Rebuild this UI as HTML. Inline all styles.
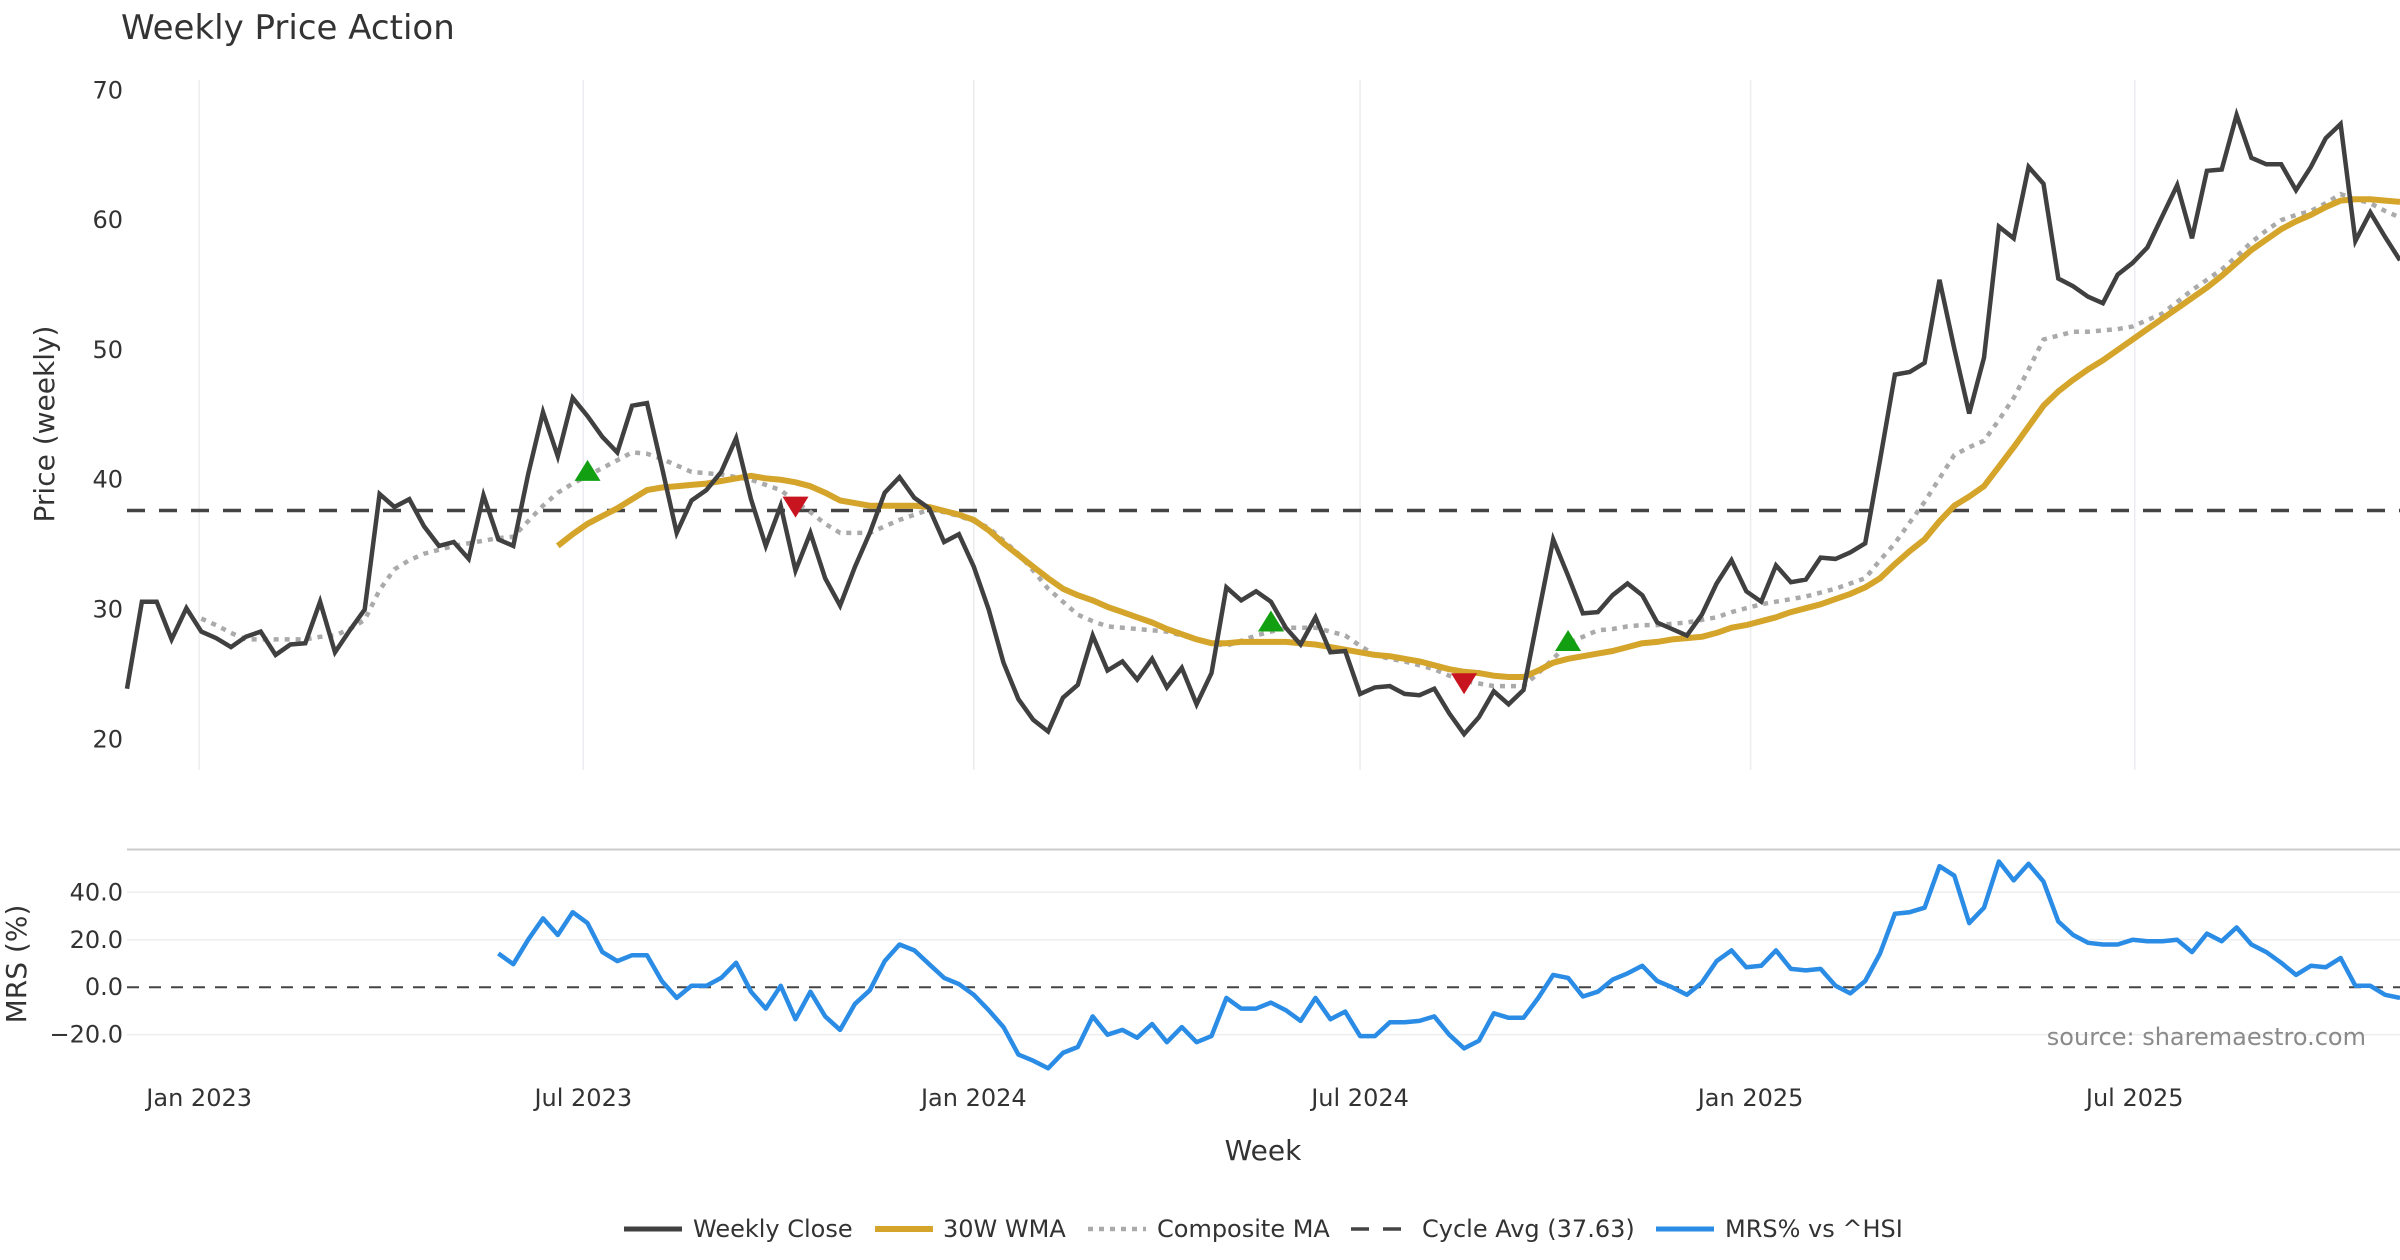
<!DOCTYPE html>
<html><head><meta charset="utf-8"><title>Weekly Price Action</title>
<style>
html,body{margin:0;padding:0;background:#fff;}
svg{display:block;font-family:"DejaVu Sans","Liberation Sans",sans-serif;}
</style></head>
<body>
<svg id="chart" width="2400" height="1260" viewBox="0 0 2400 1260" xmlns="http://www.w3.org/2000/svg">
<rect width="2400" height="1260" fill="#fff"/>
<text x="121" y="39" font-size="34" fill="#333">Weekly Price Action</text>
<g id="grid"></g>
<g id="price"></g>
<g id="mrs"></g>
<text x="54" y="424" font-size="28" fill="#333" text-anchor="middle" transform="rotate(-90 54 424)">Price (weekly)</text>
<text x="26" y="964" font-size="28" fill="#333" text-anchor="middle" transform="rotate(-90 26 964)">MRS (%)</text>
<text x="1263" y="1160" font-size="28" fill="#333" text-anchor="middle">Week</text>
<text x="2366" y="1045" font-size="24" fill="#8a8a8a" text-anchor="end">source: sharemaestro.com</text>
<g id="legend">
  <line x1="624" y1="1229" x2="682" y2="1229" stroke="#404040" stroke-width="5"/>
  <text x="693" y="1237" font-size="24" fill="#333">Weekly Close</text>
  <line x1="875" y1="1229" x2="933" y2="1229" stroke="#D4A52A" stroke-width="6"/>
  <text x="943" y="1237" font-size="24" fill="#333">30W WMA</text>
  <line x1="1088" y1="1229" x2="1146" y2="1229" stroke="#aaa" stroke-width="4.5" stroke-dasharray="5,6"/>
  <text x="1157" y="1237" font-size="24" fill="#333">Composite MA</text>
  <line x1="1351" y1="1229" x2="1409" y2="1229" stroke="#444" stroke-width="3.5" stroke-dasharray="18,14"/>
  <text x="1422" y="1237" font-size="24" fill="#333">Cycle Avg (37.63)</text>
  <line x1="1656" y1="1229" x2="1714" y2="1229" stroke="#2B8CE6" stroke-width="5"/>
  <text x="1725" y="1237" font-size="24" fill="#333">MRS% vs ^HSI</text>
</g>
</svg>
<script>
const closeValues=[23.9,30.6,30.6,27.7,30.1,28.3,27.8,27.1,27.9,28.3,26.5,27.3,27.4,30.6,26.7,28.4,30.0,38.9,37.9,38.5,36.4,34.9,35.2,33.9,38.8,35.4,34.9,40.4,45.2,41.8,46.3,44.9,43.3,42.1,45.7,45.9,41.0,35.9,38.4,39.2,40.6,43.2,38.5,34.9,38.0,33.0,35.9,32.4,30.3,33.3,35.9,39.0,40.2,38.6,37.8,35.2,35.8,33.3,30.0,25.9,23.1,21.5,20.6,23.2,24.2,28.0,25.3,26.0,24.6,26.2,24.0,25.5,22.7,25.1,31.7,30.7,31.4,30.6,28.6,27.3,29.4,26.7,26.8,23.5,24.0,24.1,23.5,23.4,23.9,22.0,20.4,21.7,23.7,22.7,23.8,29.6,35.4,32.6,29.7,29.8,31.1,32.0,31.1,29.0,28.5,28.0,29.6,32.0,33.8,31.4,30.6,33.4,32.1,32.3,34.0,33.9,34.4,35.1,41.5,48.1,48.3,49.0,55.4,50.1,45.1,49.4,59.5,58.6,64.1,62.8,55.5,54.9,54.1,53.6,55.8,56.7,57.9,60.3,62.7,58.6,63.8,63.9,68.1,64.8,64.3,64.3,62.3,64.1,66.3,67.4,58.4,60.6,58.7,56.9];
const wmaStart=29;
const wmaValues=[34.9,35.8,36.6,37.2,37.8,38.5,39.2,39.4,39.5,39.6,39.7,39.9,40.1,40.3,40.1,40.0,39.8,39.5,39.0,38.4,38.2,38.0,38.0,38.0,38.0,37.9,37.6,37.3,36.9,36.1,35.1,34.2,33.3,32.4,31.6,31.1,30.7,30.2,29.8,29.4,29.0,28.5,28.1,27.7,27.4,27.4,27.5,27.5,27.5,27.5,27.4,27.3,27.1,26.9,26.7,26.5,26.4,26.2,26.0,25.7,25.4,25.2,25.1,24.9,24.8,24.8,25.3,25.9,26.2,26.4,26.6,26.8,27.1,27.4,27.5,27.7,27.8,27.9,28.2,28.6,28.8,29.1,29.4,29.8,30.1,30.4,30.8,31.2,31.7,32.4,33.5,34.5,35.4,36.8,38.0,38.7,39.5,41.0,42.5,44.1,45.7,46.8,47.7,48.5,49.2,50.0,50.8,51.6,52.4,53.2,54.0,54.8,55.7,56.7,57.7,58.5,59.3,59.9,60.4,61.0,61.5,61.6,61.6,61.5,61.4];
const compStart=5;
const compValues=[29.3,28.8,28.2,27.7,27.7,27.7,27.7,27.7,27.9,28.0,28.5,29.2,31.5,33.1,33.8,34.3,34.6,34.9,35.1,35.3,35.5,35.6,36.8,38.0,39.0,39.7,40.3,40.9,41.5,42.1,42.0,41.6,41.1,40.6,40.5,40.4,40.2,40.0,39.6,39.2,38.3,37.5,36.6,35.9,35.9,35.9,36.4,36.9,37.3,37.7,37.5,37.2,36.8,36.3,35.3,34.3,33.0,31.6,30.6,29.6,29.1,28.7,28.6,28.5,28.4,28.3,28.0,27.7,27.4,27.2,27.6,28.0,28.3,28.6,28.6,28.6,28.3,28.0,27.2,26.5,26.2,26.0,25.7,25.4,24.9,24.5,24.3,24.1,24.1,24.1,25.1,26.2,27.4,27.9,28.4,28.5,28.7,28.8,28.8,28.9,29.0,29.2,29.4,29.8,30.1,30.4,30.6,30.8,31.0,31.3,31.6,32.0,32.4,33.8,35.1,36.7,38.3,40.1,41.9,42.5,43.0,44.6,46.3,48.5,50.8,51.1,51.4,51.4,51.5,51.6,51.8,52.3,52.8,53.7,54.6,55.4,56.2,57.2,58.3,59.2,60.0,60.4,60.7,61.3,62.0,61.6,61.3,60.7,60.2];
const mrsStart=25;
const mrsValues=[14.2,9.7,20,29,22,31.6,27,14.8,11,13.5,13.5,2.6,-4.5,0.6,0.6,3.9,10.3,-1.9,-9,0.6,-13.5,-1.9,-12.3,-18,-7,-1.3,11,18,15.5,9.7,3.9,1.3,-3.2,-9.7,-16.8,-28.4,-31,-34.2,-27.7,-25.2,-12.3,-20,-18,-21.3,-15.5,-23.2,-16.8,-23.2,-20.6,-4.5,-9,-9,-6.5,-9.7,-14.2,-4.5,-13.5,-10.3,-20.6,-20.6,-14.8,-14.8,-14.2,-12.3,-20,-25.8,-22.6,-11,-12.9,-12.9,-4.5,5.2,3.9,-3.9,-1.9,3.2,5.8,9,2.6,0,-3.2,1.9,11,15.5,8.4,9,15.5,7.7,7.1,7.7,0.6,-2.6,2.6,14.2,31,31.6,33.5,51,47,27,33.5,53,45,52,44.5,27.7,22,18.7,18,18,20,19.4,19.4,20,14.8,22.6,19.4,25.2,18,14.8,10.3,5.2,9,8.4,12.3,0.6,0.6,-3.2,-4.5];
const buyIdx=[31,77,97];
const buyVals=[40.6,29.0,27.5];
const sellIdx=[45,90];
const sellVals=[38.0,24.4];
const cycleAvg=37.63;
const priceTicks=[20,30,40,50,60,70];
const mrsTicks=[-20,0,20,40];
const xTickLabels=["Jan 2023","Jul 2023","Jan 2024","Jul 2024","Jan 2025","Jul 2025"];
const xTickDates=["2023-01-01","2023-07-01","2024-01-01","2024-07-01","2025-01-01","2025-07-01"];
const startDate="2022-11-28";

const NS="http://www.w3.org/2000/svg";
const X0=127, X1=2400, nPts=closeValues.length;
const xs=i=>X0+i*(X1-X0)/(nPts-1);
const xDate=d=>xs((Date.parse(d)-Date.parse(startDate))/(7*86400000));
const yP=v=>739.3-(v-20)*(739.3-90.3)/50;
const yM=v=>987.2-v*47.45/20;
function mk(tag,attrs,parent){const e=document.createElementNS(NS,tag);for(const k in attrs)e.setAttribute(k,attrs[k]);parent.appendChild(e);return e;}
function pathFrom(vals,start,ys){return vals.map((v,k)=>(k?"L":"M")+xs(start+k).toFixed(1)+","+ys(v).toFixed(1)).join("");}
const grid=document.getElementById('grid'),price=document.getElementById('price'),mrs=document.getElementById('mrs');

xTickDates.forEach((d,k)=>{
  const x=xDate(d);
  const g=mk('line',{x1:x,x2:x,y1:80,y2:770,stroke:'#ececf0','stroke-width':1.5},grid);
  
  
  const t=mk('text',{x:x,y:1106,'font-size':24,fill:'#333','text-anchor':'middle'},grid);
  t.textContent=xTickLabels[k];
  
  
});
priceTicks.forEach(v=>{
  const t=mk('text',{x:123,y:yP(v)+8,'font-size':24,fill:'#333','text-anchor':'end'},grid);
  t.textContent=v;
  
  
});
const sep=mk('line',{x1:127,x2:2400,y1:849.5,y2:849.5,stroke:'#ccc','stroke-width':2},grid);


mrsTicks.forEach(v=>{
  const y=yM(v);
  if(v!==0){const l=mk('line',{x1:127,x2:2400,y1:y,y2:y,stroke:'#eeeeee','stroke-width':1.5},grid);
  
  }
  const t=mk('text',{x:123,y:y+8,'font-size':24,fill:'#333','text-anchor':'end'},grid);
  t.textContent=(v<0?"\u2212"+Math.abs(v).toFixed(1):v.toFixed(1));
  
  
});

const cy=mk('line',{x1:127,x2:2400,y1:yP(cycleAvg),y2:yP(cycleAvg),stroke:'#444','stroke-width':3.5,'stroke-dasharray':'18,14'},price);


const comp=mk('path',{d:pathFrom(compValues,compStart,yP),fill:'none',stroke:'#aaa','stroke-width':4.5,'stroke-dasharray':'5,6'},price);


const wma=mk('path',{d:pathFrom(wmaValues,wmaStart,yP),fill:'none',stroke:'#D4A52A','stroke-width':6,'stroke-linejoin':'round'},price);


const cl=mk('path',{d:pathFrom(closeValues,0,yP),fill:'none',stroke:'#404040','stroke-width':4.5,'stroke-linejoin':'miter'},price);


buyIdx.forEach((i,k)=>{
  const x=xs(i),y=yP(buyVals[k]);
  const p=mk('polygon',{points:`${x-13},${y+9} ${x+13},${y+9} ${x},${y-12}`,fill:'#12A012'},price);
  
  
});
sellIdx.forEach((i,k)=>{
  const x=xs(i),y=yP(sellVals[k]);
  const p=mk('polygon',{points:`${x-13},${y-9} ${x+13},${y-9} ${x},${y+12}`,fill:'#C8141E'},price);
  
  
});

const z=mk('line',{x1:127,x2:2400,y1:yM(0),y2:yM(0),stroke:'#444','stroke-width':2,'stroke-dasharray':'12,10'},mrs);


const mp=mk('path',{d:pathFrom(mrsValues,mrsStart,yM),fill:'none',stroke:'#2B8CE6','stroke-width':4.5,'stroke-linejoin':'round'},mrs);


</script>
</body></html>
